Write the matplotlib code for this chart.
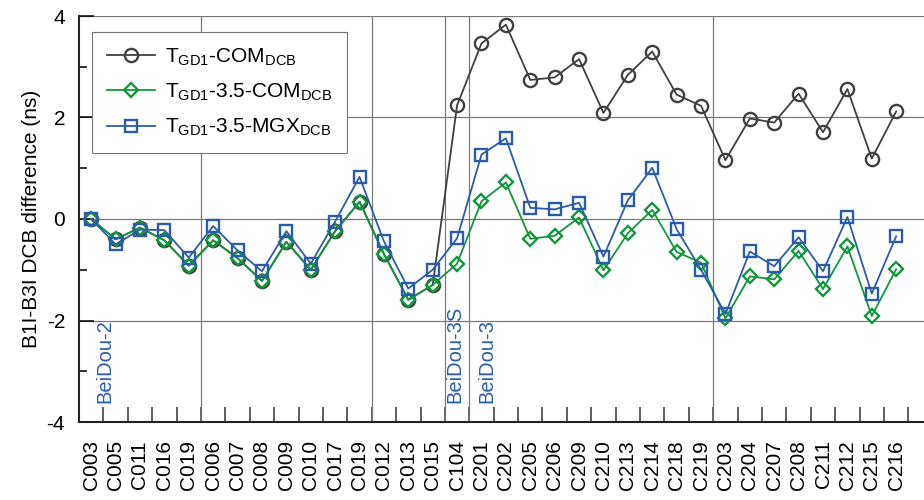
import matplotlib
matplotlib.use('Agg')
import matplotlib.pyplot as plt
import numpy as np

plt.rcParams['font.family'] = ['Liberation Sans', 'DejaVu Sans']
plt.rcParams['mathtext.fontset'] = 'custom'
plt.rcParams['mathtext.rm'] = 'Liberation Sans'
plt.rcParams['axes.unicode_minus'] = False

# satellites (PRN) in plotting order
satellites = ['C003', 'C005', 'C011', 'C016', 'C019', 'C006', 'C007', 'C008', 'C009',
              'C010', 'C017', 'C019', 'C012', 'C013', 'C015', 'C104', 'C201', 'C202',
              'C205', 'C206', 'C209', 'C210', 'C213', 'C214', 'C218', 'C219', 'C203',
              'C204', 'C207', 'C208', 'C211', 'C212', 'C215', 'C216']

# B1I-B3I DCB differences (ns)
tgd_com = [0.00, -0.40, -0.17, -0.42, -0.92, -0.42, -0.77, -1.22, -0.45, -1.00, -0.24,
           0.34, -0.69, -1.59, -1.30, 2.24, 3.46, 3.83, 2.74, 2.79, 3.15, 2.09, 2.84,
           3.30, 2.45, 2.23, 1.16, 1.98, 1.90, 2.47, 1.71, 2.56, 1.19, 2.12]
tgd_35_com = [0.00, -0.40, -0.17, -0.42, -0.92, -0.42, -0.77, -1.22, -0.45, -1.00, -0.24,
              0.34, -0.69, -1.59, -1.30, -0.88, 0.35, 0.72, -0.39, -0.33, 0.03, -1.01,
              -0.28, 0.18, -0.65, -0.86, -1.96, -1.13, -1.19, -0.63, -1.38, -0.54,
              -1.91, -0.99]
tgd_35_mgx = [0.00, -0.50, -0.21, -0.22, -0.76, -0.14, -0.62, -1.03, -0.24, -0.88, -0.05,
              0.83, -0.44, -1.37, -1.00, -0.38, 1.27, 1.59, 0.22, 0.19, 0.32, -0.74,
              0.37, 1.01, -0.20, -1.00, -1.87, -0.64, -0.93, -0.36, -1.03, 0.04,
              -1.47, -0.34]

# constellation groups: separators and labels
group_breaks = [4.5, 11.5, 14.5, 15.5, 25.5]
group_labels = ['BeiDou-2', 'BeiDou-3S', 'BeiDou-3']
group_label_x = [0.58, 14.92, 16.2]

fig = plt.figure(figsize=(9.24, 5.0), dpi=100)
ax = fig.add_axes([79 / 924, 78 / 500, 845 / 924, 406 / 500])

x = np.arange(len(satellites))
blue = '#2a5caa'
styles = [
    (tgd_com, '#404040', 'o', 9.5, r'T$_\mathrm{GD1}$-COM$_\mathrm{DCB}$'),
    (tgd_35_com, '#12963c', 'D', 7.5, r'T$_\mathrm{GD1}$-3.5-COM$_\mathrm{DCB}$'),
    (tgd_35_mgx, blue, 's', 8.5, r'T$_\mathrm{GD1}$-3.5-MGX$_\mathrm{DCB}$'),
]
for vals, c, m, ms, lab in styles:
    ax.plot(x, vals, color=c, lw=1.3, marker=m, ms=ms, mfc='none', mec=c, mew=1.7,
            label=lab, zorder=3)

for b in group_breaks:
    ax.axvline(b, color='#7a7a7a', lw=0.9, zorder=1)
for gx, gl in zip(group_label_x, group_labels):
    ax.text(gx, -3.62, gl, rotation=90, color=blue, fontsize=14.5, ha='center', va='bottom')

ax.set_xlim(-0.5, 34.14)
ax.set_ylim(-4, 4)
ax.set_yticks([-4, -2, 0, 2, 4])
ax.set_yticks([-3, -1, 1, 3], minor=True)
ax.set_xticks(x)
ax.set_xticklabels(satellites, rotation=90, fontsize=15)
ax.set_xticks(x + 0.5, minor=True)
ax.tick_params(axis='x', which='major', length=0, pad=13)
ax.tick_params(axis='x', which='minor', direction='in', length=11, width=1.1, color='#333333')
ax.tick_params(axis='y', which='major', direction='in', length=11, width=1.1, labelsize=15, pad=10)
ax.tick_params(axis='y', which='minor', direction='in', length=6, width=1.1)
ax.yaxis.grid(True, color='#7a7a7a', lw=0.9, zorder=1)
ax.set_axisbelow(True)

for s in ('top', 'right'):
    ax.spines[s].set_visible(False)
for s in ('left', 'bottom'):
    ax.spines[s].set_linewidth(1.5)
    ax.spines[s].set_color('#222222')

ax.set_ylabel('B1I-B3I DCB difference (ns)', fontsize=15, labelpad=4)

leg = ax.legend(loc='upper left', bbox_to_anchor=(0.0154, 0.9606), borderaxespad=0,
                fontsize=15, fancybox=False, framealpha=1, handlelength=2.3,
                labelspacing=0.65, borderpad=0.7, handletextpad=0.5)
leg.get_frame().set_edgecolor('#777777')
leg.get_frame().set_linewidth(0.8)

fig.savefig('out.png', dpi=100)
